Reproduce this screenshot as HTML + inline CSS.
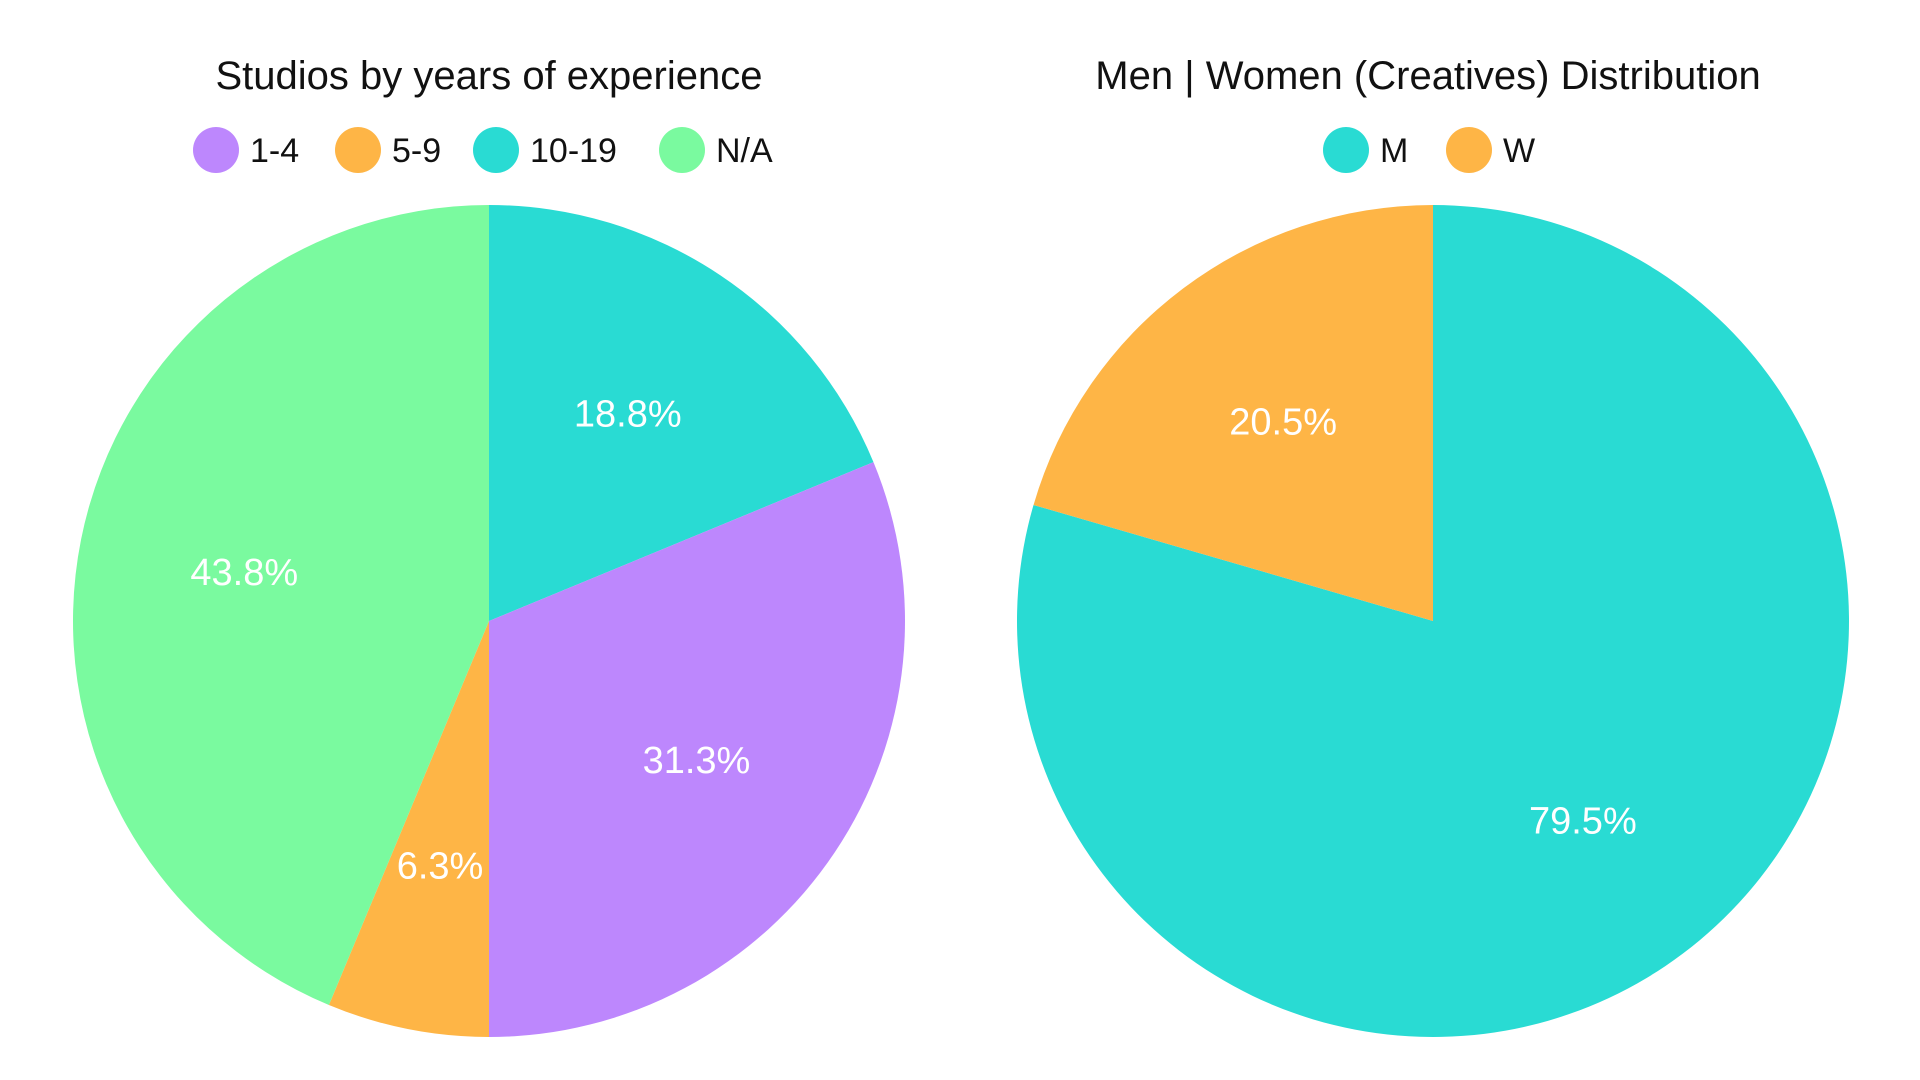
<!DOCTYPE html>
<html><head><meta charset="utf-8"><style>
html,body{margin:0;padding:0;background:#fff;}
svg{display:block;font-family:"Liberation Sans",sans-serif;}
</style></head><body>
<svg id="chart" width="1920" height="1080" viewBox="0 0 1920 1080">
<text x="489" y="89" text-anchor="middle" font-size="40" fill="#111">Studios by years of experience</text>
<text x="1428" y="89" text-anchor="middle" font-size="40" fill="#111">Men | Women (Creatives) Distribution</text>
<g id="left"></g><g id="right"></g>
</svg>
<script>
const leftCats=["10-19","1-4","5-9","N/A"];
const leftVals=[18.8,31.3,6.3,43.8];
const leftColors=["#29dbd3","#bd87fd","#feb546","#7afa9f"];
const legendLeftCats=["1-4","5-9","10-19","N/A"];
const legendLeftColors=["#bd87fd","#feb546","#29dbd3","#7afa9f"];
const rightCats=["M","W"];
const rightVals=[79.5,20.5];
const rightColors=["#29dbd3","#feb546"];
const NS="http://www.w3.org/2000/svg";
function pie(g,cx,cy,r,cats,vals,colors,name){
  const total=vals.reduce((a,b)=>a+b,0);let a0=0;
  vals.forEach((v,i)=>{
    const a1=a0+v/total*2*Math.PI;
    const x0=cx+r*Math.sin(a0),y0=cy-r*Math.cos(a0),x1=cx+r*Math.sin(a1),y1=cy-r*Math.cos(a1);
    const p=document.createElementNS(NS,"path");
    p.setAttribute("d",`M${cx},${cy}L${x0},${y0}A${r},${r} 0 ${a1-a0>Math.PI?1:0} 1 ${x1},${y1}Z`);
    p.setAttribute("fill",colors[i]);
    
    
    g.appendChild(p);
    const am=(a0+a1)/2;
    const t=document.createElementNS(NS,"text");
    t.setAttribute("x",cx+0.6*r*Math.sin(am));t.setAttribute("y",cy-0.6*r*Math.cos(am)+13);
    t.setAttribute("text-anchor","middle");t.setAttribute("font-size","38");t.setAttribute("fill","#fff");
    t.textContent=v.toFixed(1)+"%";
    
    
    g.appendChild(t);
    a0=a1;
  });
}
function legend(g,items,colors,xs,name){
  items.forEach((c,i)=>{
    const ci=document.createElementNS(NS,"circle");
    ci.setAttribute("cx",xs[i]);ci.setAttribute("cy",150);ci.setAttribute("r",23);ci.setAttribute("fill",colors[i]);
    
    
    g.appendChild(ci);
    const t=document.createElementNS(NS,"text");
    t.setAttribute("x",xs[i]+34);t.setAttribute("y",162);t.setAttribute("font-size","34");t.setAttribute("fill","#111");
    t.textContent=c;
    
    
    g.appendChild(t);
  });
}
const L=document.getElementById("left"),R=document.getElementById("right");
pie(L,489,621,416,leftCats,leftVals,leftColors,"left");
pie(R,1433,621,416,rightCats,rightVals,rightColors,"right");
legend(L,legendLeftCats,legendLeftColors,[216,358,496,682],"left");
legend(R,rightCats,rightColors,[1346,1469],"right");
</script>
</body></html>
